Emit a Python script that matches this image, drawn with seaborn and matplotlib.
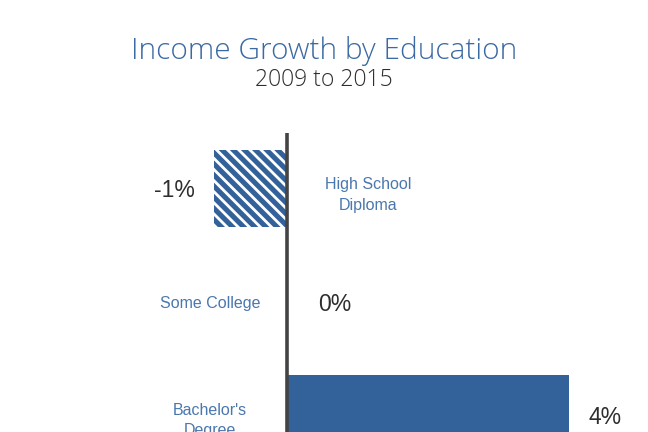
import matplotlib
matplotlib.use("Agg")
import matplotlib.pyplot as plt
import seaborn as sns
import pandas as pd

categories = ["High School\nDiploma", "Some College", "Bachelor's\nDegree"]
growth = [-1.03, 0.0, 4.0]
value_labels = ["-1%", "0%", "4%"]

sns.set_theme(style="white")
plt.rcParams['font.family'] = ['Liberation Sans', 'DejaVu Sans']
plt.rcParams['hatch.linewidth'] = 2.0
plt.rcParams['hatch.color'] = 'white'

BLUE = "#33619A"
TITLE_BLUE = "#3A69A3"
LABEL_BLUE = "#4A77AD"
DARK = "#2E2E2E"
LIGHT_FONT = ['Open Sans', 'DejaVu Sans']

df = pd.DataFrame({"cat": categories, "growth": growth})

fig = plt.figure(figsize=(6.48, 4.32), dpi=100)
ax = fig.add_axes([146 / 648, -0.088, 493.5 / 648, 0.78])

sns.barplot(data=df, x="growth", y="cat", orient="h", color=BLUE,
            saturation=1, width=0.68, ax=ax)

for i, p in enumerate(ax.patches):
    p.set_facecolor(BLUE)
    p.set_linewidth(0)
    if growth[i] < 0:
        p.set_hatch("\\\\\\")
        p.set_edgecolor("white")

ax.set_xlim(-2, 5)
ax.set_ylim(2.5, -0.49)
ax.axvline(0, color="#444444", lw=2.6, zorder=5)

for i, v in enumerate(growth):
    gap = 0.27 if v != 0 else 0.44
    if v < 0:
        ax.text(v - gap, i + 0.02, value_labels[i], ha="right", va="center",
                fontsize=16.5, color=DARK)
        ax.text(1.15, i + 0.06, categories[i], ha="center", va="center",
                fontsize=11.5, color=LABEL_BLUE, linespacing=1.45)
    else:
        ax.text(v + gap, i + 0.03, value_labels[i], ha="left", va="center",
                fontsize=16.5, color=DARK)
        ax.text(-1.09, i + 0.06 if "\n" in categories[i] else i + 0.025,
                categories[i], ha="center", va="center", fontsize=11.5,
                color=LABEL_BLUE, linespacing=1.45)

ax.set_xlabel("")
ax.set_ylabel("")
ax.set_xticks([])
ax.set_yticks([])
for s in ax.spines.values():
    s.set_visible(False)

fig.text(0.5, 1 - 51 / 432, "Income Growth by Education", ha="center",
         va="center", fontsize=21.5, color=TITLE_BLUE,
         family=LIGHT_FONT, fontweight='light')
fig.text(0.5, 1 - 80 / 432, "2009 to 2015", ha="center", va="center",
         fontsize=16.5, color=DARK, family=LIGHT_FONT, fontweight='light')

fig.savefig("out.png", dpi=100)
